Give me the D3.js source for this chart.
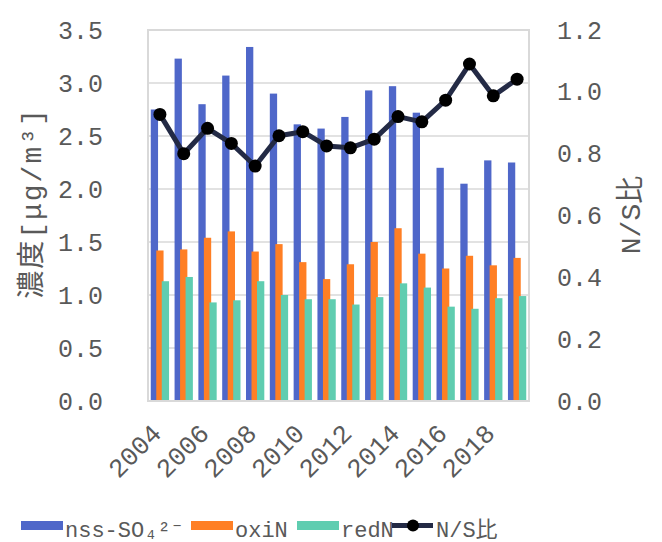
<!DOCTYPE html>
<html><head><meta charset="utf-8">
<script src="https://cdn.jsdelivr.net/npm/d3@7"></script>
<style>
body{margin:0;background:#fff}
svg{display:block}
</style></head>
<body>
<div id="chart"></div>
<script>
// data
const years = d3.range(2004, 2020).map(String);
const so4  = [2.75, 3.23, 2.80, 3.07, 3.34, 2.90, 2.61, 2.57, 2.68, 2.93, 2.97, 2.72, 2.20, 2.05, 2.27, 2.25];
const oxiN = [1.42, 1.43, 1.54, 1.60, 1.41, 1.48, 1.31, 1.15, 1.29, 1.50, 1.63, 1.39, 1.25, 1.37, 1.28, 1.35];
const redN = [1.13, 1.17, 0.93, 0.95, 1.13, 1.00, 0.96, 0.96, 0.91, 0.98, 1.11, 1.07, 0.89, 0.87, 0.97, 0.99];
const nsRatio = [0.927, 0.80, 0.882, 0.833, 0.76, 0.858, 0.871, 0.825, 0.819, 0.847, 0.92, 0.903, 0.973, 1.09, 0.987, 1.041];
const leftTicks = [0, 0.5, 1.0, 1.5, 2.0, 2.5, 3.0, 3.5];
const rightTicks = [0, 0.2, 0.4, 0.6, 0.8, 1.0, 1.2];
const xLabelYears = ["2004", "2006", "2008", "2010", "2012", "2014", "2016", "2018"];
const seriesNames = ["nss-SO₄²⁻", "oxiN", "redN"];

const W = 662, H = 542;
const ML = 148, MR = 529, TOP = 30, BOT = 401;
const C = { so4: "#4f67c9", oxi: "#ff7f24", red: "#5fcdb0", line: "#232a45", txt: "#595959", grid: "#d9d9d9" };
const FONT = `"Liberation Mono", "Noto Sans CJK JP", monospace`;

const svg = d3.select("#chart").append("svg").attr("width", W).attr("height", H);

const x = d3.scaleBand().domain(years).range([ML, MR]);
const y = d3.scaleLinear().domain([0, 3.5]).range([BOT, TOP]);
const y2 = d3.scaleLinear().domain([0, 1.2]).range([BOT, TOP]);
const cx = d => x(d) + x.bandwidth() / 2;

// grid
svg.append("g").selectAll("line").data(leftTicks.slice(1, -1)).join("line")
  .attr("x1", ML).attr("x2", MR).attr("y1", d => y(d)).attr("y2", d => y(d))
  .attr("stroke", C.grid).attr("stroke-width", 1.5);

// bars: blue, orange, green overlapping slightly
const BW = 7.3, STEP = 5.5;
[[so4, C.so4], [oxiN, C.oxi], [redN, C.red]].forEach(([vals, col], i) => {
  svg.append("g").selectAll("rect").data(vals).join("rect")
    .attr("x", (d, j) => cx(years[j]) + (i - 1) * STEP - BW / 2)
    .attr("width", BW)
    .attr("y", d => y(d)).attr("height", d => y(0) - y(d))
    .attr("fill", col);
});

// plot border
svg.append("rect").attr("x", ML).attr("y", TOP).attr("width", MR - ML).attr("height", BOT - TOP)
  .attr("fill", "none").attr("stroke", C.grid).attr("stroke-width", 2);

// N/S line
const line = d3.line().x((d, j) => cx(years[j])).y(d => y2(d));
svg.append("path").attr("d", line(nsRatio)).attr("fill", "none")
  .attr("stroke", C.line).attr("stroke-width", 5).attr("stroke-linejoin", "round");
svg.append("g").selectAll("circle").data(nsRatio).join("circle")
  .attr("cx", (d, j) => cx(years[j])).attr("cy", d => y2(d)).attr("r", 6.5).attr("fill", "#000");

// axis labels
svg.append("g").selectAll("text").data(leftTicks).join("text")
  .attr("x", 103).attr("y", d => y(d) + 8.5).attr("text-anchor", "end")
  .attr("style", `font:25px ${FONT};fill:${C.txt}`).text(d => d.toFixed(1));
svg.append("g").selectAll("text").data(rightTicks).join("text")
  .attr("x", 557).attr("y", d => y2(d) + 8.5)
  .attr("style", `font:25px ${FONT};fill:${C.txt}`).text(d => d.toFixed(1));
svg.append("g").selectAll("text").data(xLabelYears).join("text")
  .attr("transform", d => `translate(${cx(d) + 3},${435}) rotate(-45)`)
  .attr("text-anchor", "end")
  .attr("style", `font:26px ${FONT};fill:${C.txt}`).text(d => d);

// axis titles
svg.append("text").attr("transform", `translate(41,${203}) rotate(-90)`).attr("text-anchor", "middle")
  .attr("style", `font:28px ${FONT};fill:${C.txt};letter-spacing:2px`).text("濃度[μg/m³]");
svg.append("text").attr("transform", `translate(640,${215}) rotate(-90)`).attr("text-anchor", "middle")
  .attr("style", `font:28px ${FONT};fill:${C.txt}`).text("N/S比");

// legend
const LY = 525.5;
const leg = svg.append("g");
[[21, C.so4, seriesNames[0]], [191, C.oxi, seriesNames[1]], [297, C.red, seriesNames[2]]].forEach(([lx, col, name]) => {
  leg.append("rect").attr("x", lx).attr("y", LY - 4.5).attr("width", 42).attr("height", 9).attr("fill", col);
  leg.append("text").attr("x", lx + 44).attr("y", LY + 11)
    .attr("style", `font:22px ${FONT};fill:${C.txt}`).text(name);
});
leg.append("line").attr("x1", 392).attr("x2", 433).attr("y1", LY).attr("y2", LY)
  .attr("stroke", C.line).attr("stroke-width", 5);
leg.append("circle").attr("cx", 413).attr("cy", LY).attr("r", 6).attr("fill", "#000");
leg.append("text").attr("x", 436).attr("y", LY + 11)
  .attr("style", `font:22px ${FONT};fill:${C.txt}`).text("N/S比");
</script>
</body></html>
